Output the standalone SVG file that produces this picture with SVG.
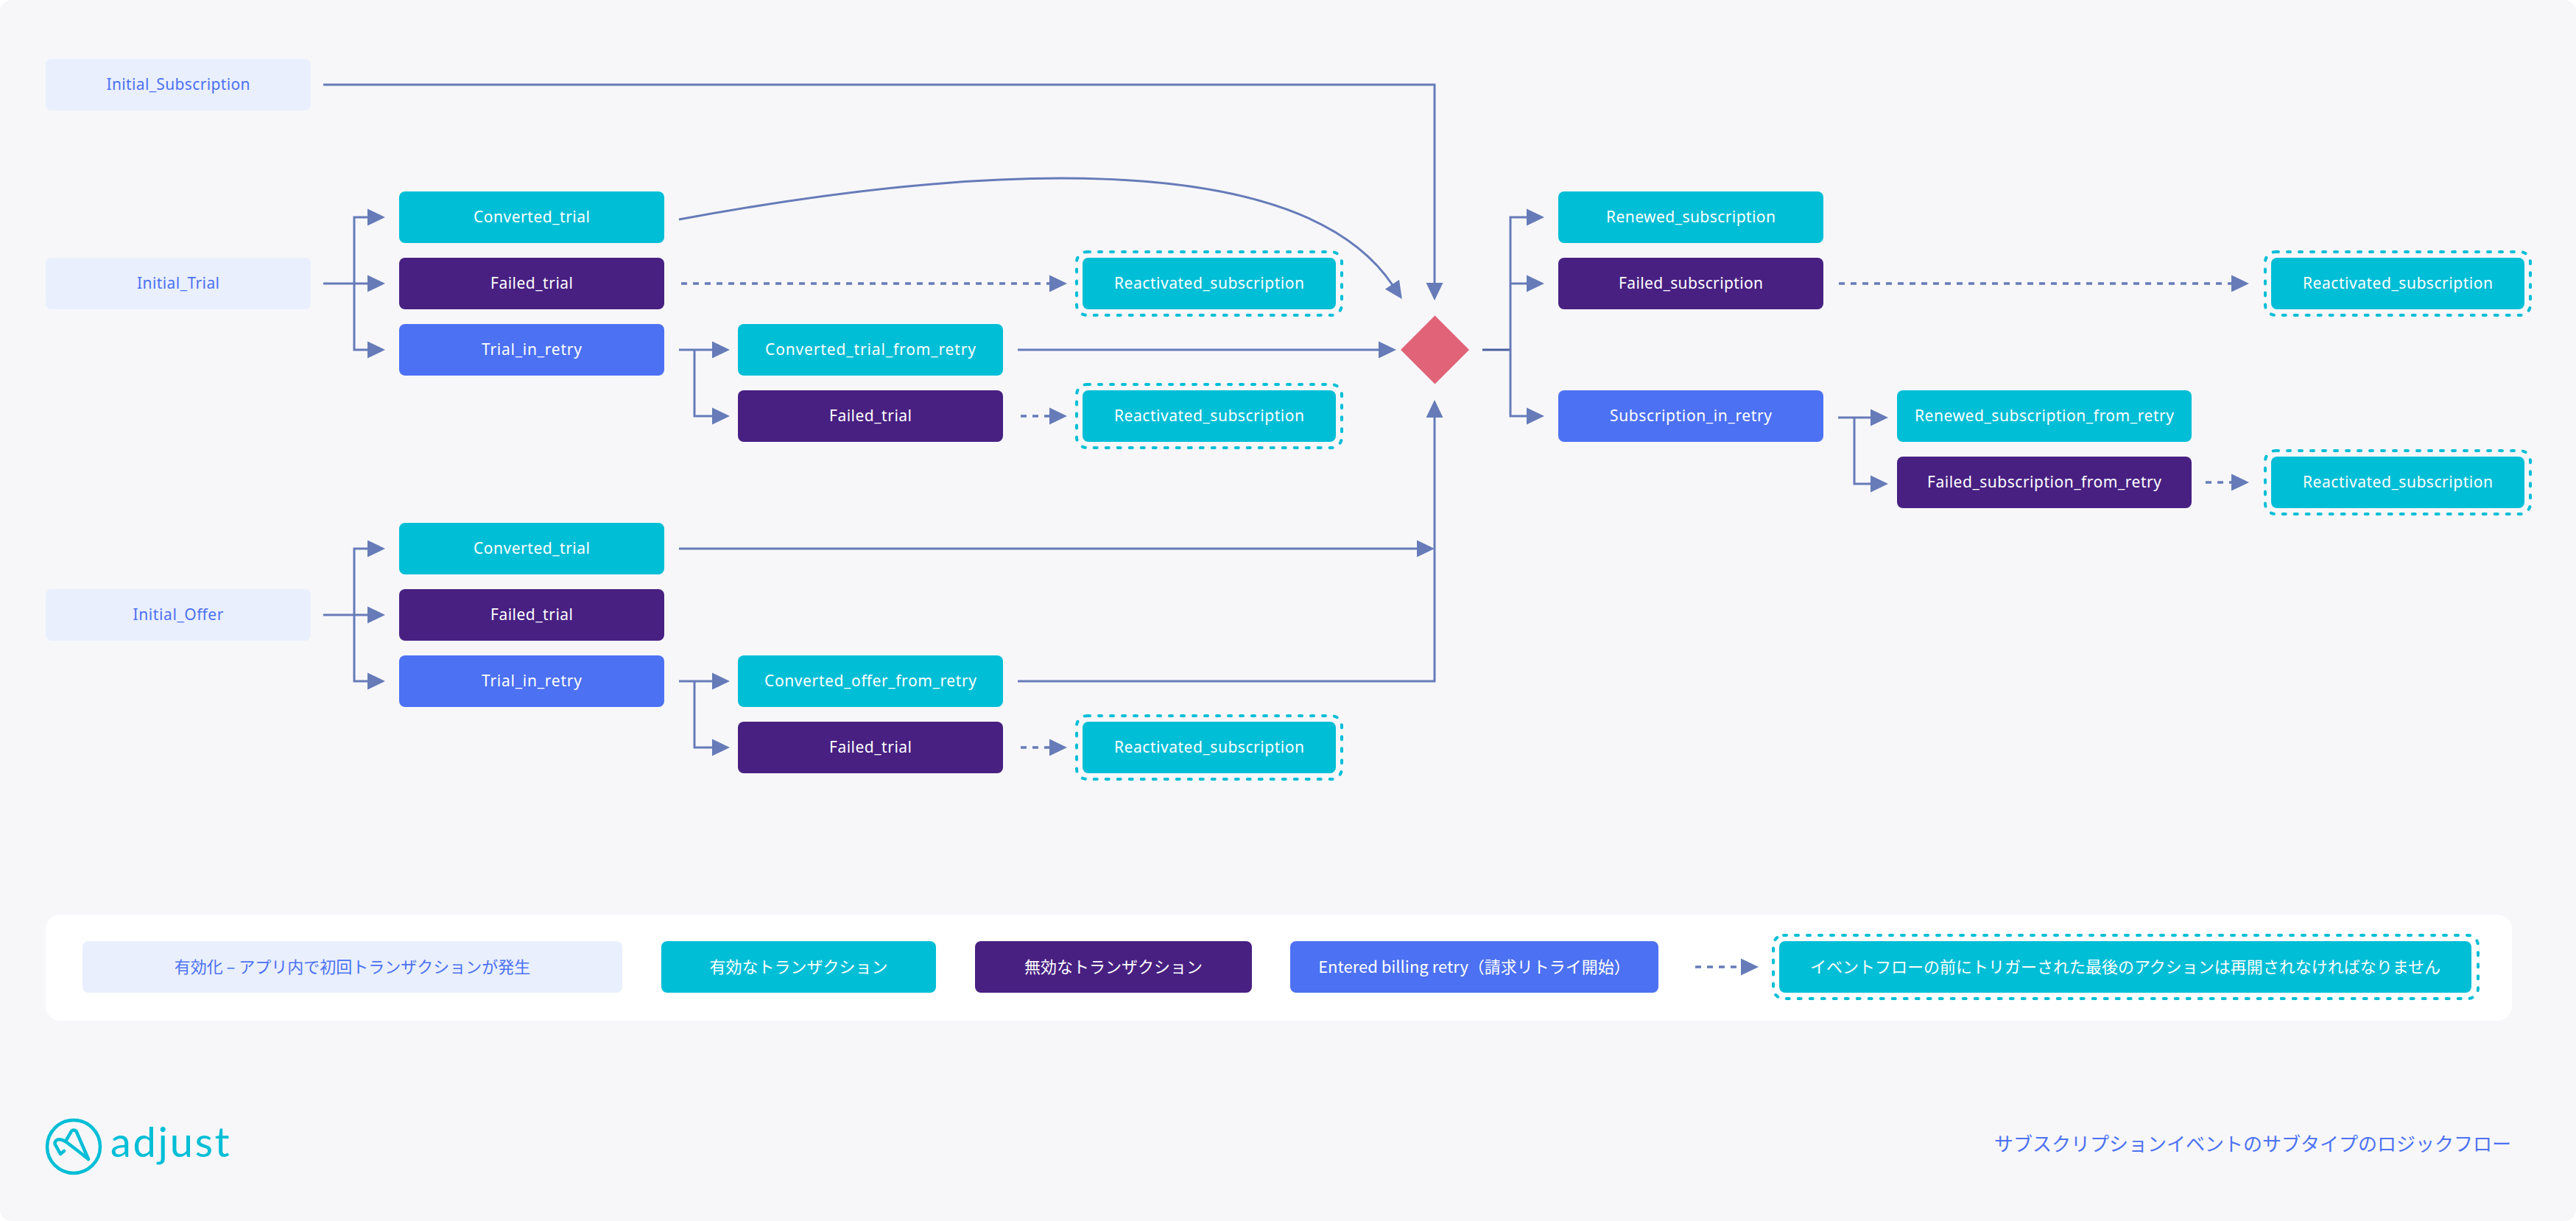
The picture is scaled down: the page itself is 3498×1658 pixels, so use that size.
<svg xmlns="http://www.w3.org/2000/svg" width="3498" height="1658" viewBox="0 0 3498 1658">
<style>
.t{font-family:"Noto Sans","Noto Sans CJK JP",sans-serif;font-size:21px;text-anchor:middle;fill:#fff}
.j{font-family:"Noto Sans CJK JP","Noto Sans",sans-serif;font-size:22px;text-anchor:middle;fill:#fff}
.b{fill:#4c71f2}
.init{fill:#e9effd}.ok{fill:#00bed6}.bad{fill:#482082}.retry{fill:#4c71f2}
.dot{fill:none;stroke:#00bed6;stroke-width:4;stroke-linecap:round;stroke-dasharray:4 12}
.c{fill:none;stroke:#667bb8;stroke-width:3;marker-end:url(#a)}
.l{fill:none;stroke:#4a5f9e;stroke-width:3}
.d{fill:none;stroke:#667bb8;stroke-width:3.500;stroke-dasharray:8 8;marker-end:url(#a)}
</style>
<defs>
<marker id="a" markerUnits="userSpaceOnUse" markerWidth="24" markerHeight="24" refX="1" refY="12" orient="auto"><path d="M0 .5L24 12L0 23.500Z" fill="#667bb8"/></marker>
</defs>
<rect width="3498" height="1658" fill="#fff"/>
<rect width="3498" height="1658" rx="16" fill="#f7f7fa"/>

<g id="legend">
<rect x="62" y="1242" width="3349" height="144" rx="20" fill="#fff"/>
</g>

<g id="connectors">
<path class="c" d="M439 115H1948V385"/>
<path class="c" d="M922 298C1300 228 1760 192 1891 387"/>
<path class="c" d="M439 385H500"/>
<path class="c" d="M481 385V295H500"/>
<path class="c" d="M481 385V475H500"/>
<path class="d" d="M925 385H1426"/>
<path class="c" d="M922 475H968"/>
<path class="c" d="M943 475V565H968"/>
<path class="c" d="M1382 475H1873"/>
<path class="d" d="M1386 565H1426"/>
<path class="c" d="M439 835H500"/>
<path class="c" d="M481 835V745H500"/>
<path class="c" d="M481 835V925H500"/>
<path class="c" d="M922 745H1925"/>
<path class="c" d="M922 925H968"/>
<path class="c" d="M943 925V1015H968"/>
<path class="c" d="M1382 925H1948V566"/>
<path class="d" d="M1386 1015H1426"/>
<path class="l" d="M2013 475H2051"/>
<path class="c" d="M2051 475V295H2074"/>
<path class="c" d="M2051 385H2074"/>
<path class="c" d="M2051 475V565H2074"/>
<path class="d" d="M2497 385H3031"/>
<path class="c" d="M2496 567H2541"/>
<path class="c" d="M2518 567V657H2541"/>
<path class="d" d="M2995 655H3031"/>
<path class="d" d="M2302 1313H2365"/>
</g>

<g id="n-initial-subscription"><rect class="init" x="62" y="80" width="360" height="70" rx="8"/><text class="t b" x="242" y="122" textLength="195">Initial_Subscription</text></g>
<g id="n-initial-trial"><rect class="init" x="62" y="350" width="360" height="70" rx="8"/><text class="t b" x="242" y="392" textLength="112">Initial_Trial</text></g>
<g id="n-initial-offer"><rect class="init" x="62" y="800" width="360" height="70" rx="8"/><text class="t b" x="242" y="842" textLength="123">Initial_Offer</text></g>

<g id="n-converted-trial-1"><rect class="ok" x="542" y="260" width="360" height="70" rx="8"/><text class="t" x="722" y="302" textLength="158">Converted_trial</text></g>
<g id="n-failed-trial-1"><rect class="bad" x="542" y="350" width="360" height="70" rx="8"/><text class="t" x="722" y="392" textLength="112">Failed_trial</text></g>
<g id="n-trial-retry-1"><rect class="retry" x="542" y="440" width="360" height="70" rx="8"/><text class="t" x="722" y="482" textLength="136">Trial_in_retry</text></g>
<g id="n-converted-trial-retry"><rect class="ok" x="1002" y="440" width="360" height="70" rx="8"/><text class="t" x="1182" y="482" textLength="286">Converted_trial_from_retry</text></g>
<g id="n-failed-trial-2"><rect class="bad" x="1002" y="530" width="360" height="70" rx="8"/><text class="t" x="1182" y="572" textLength="112">Failed_trial</text></g>

<g id="n-converted-trial-2"><rect class="ok" x="542" y="710" width="360" height="70" rx="8"/><text class="t" x="722" y="752" textLength="158">Converted_trial</text></g>
<g id="n-failed-trial-3"><rect class="bad" x="542" y="800" width="360" height="70" rx="8"/><text class="t" x="722" y="842" textLength="112">Failed_trial</text></g>
<g id="n-trial-retry-2"><rect class="retry" x="542" y="890" width="360" height="70" rx="8"/><text class="t" x="722" y="932" textLength="136">Trial_in_retry</text></g>
<g id="n-converted-offer-retry"><rect class="ok" x="1002" y="890" width="360" height="70" rx="8"/><text class="t" x="1182" y="932" textLength="288">Converted_offer_from_retry</text></g>
<g id="n-failed-trial-4"><rect class="bad" x="1002" y="980" width="360" height="70" rx="8"/><text class="t" x="1182" y="1022" textLength="112">Failed_trial</text></g>

<g id="n-react-1"><rect class="dot" x="1462" y="342" width="360" height="86" rx="14"/><rect class="ok" x="1470" y="350" width="344" height="70" rx="8"/><text class="t" x="1642" y="392" textLength="258">Reactivated_subscription</text></g>
<g id="n-react-2"><rect class="dot" x="1462" y="522" width="360" height="86" rx="14"/><rect class="ok" x="1470" y="530" width="344" height="70" rx="8"/><text class="t" x="1642" y="572" textLength="258">Reactivated_subscription</text></g>
<g id="n-react-3"><rect class="dot" x="1462" y="972" width="360" height="86" rx="14"/><rect class="ok" x="1470" y="980" width="344" height="70" rx="8"/><text class="t" x="1642" y="1022" textLength="258">Reactivated_subscription</text></g>

<g id="n-decision"><path d="M1948.500 428.500L1995 475L1948.500 521.500L1902 475Z" fill="#e06377"/></g>

<g id="n-renewed"><rect class="ok" x="2116" y="260" width="360" height="70" rx="8"/><text class="t" x="2296" y="302" textLength="230">Renewed_subscription</text></g>
<g id="n-failed-sub"><rect class="bad" x="2116" y="350" width="360" height="70" rx="8"/><text class="t" x="2296" y="392" textLength="196">Failed_subscription</text></g>
<g id="n-sub-retry"><rect class="retry" x="2116" y="530" width="360" height="70" rx="8"/><text class="t" x="2296" y="572" textLength="220">Subscription_in_retry</text></g>
<g id="n-renewed-retry"><rect class="ok" x="2576" y="530" width="400" height="70" rx="8"/><text class="t" x="2776" y="572" textLength="352">Renewed_subscription_from_retry</text></g>
<g id="n-failed-sub-retry"><rect class="bad" x="2576" y="620" width="400" height="70" rx="8"/><text class="t" x="2776" y="662" textLength="318">Failed_subscription_from_retry</text></g>
<g id="n-react-4"><rect class="dot" x="3076" y="342" width="360" height="86" rx="14"/><rect class="ok" x="3084" y="350" width="344" height="70" rx="8"/><text class="t" x="3256" y="392" textLength="258">Reactivated_subscription</text></g>
<g id="n-react-5"><rect class="dot" x="3076" y="612" width="360" height="86" rx="14"/><rect class="ok" x="3084" y="620" width="344" height="70" rx="8"/><text class="t" x="3256" y="662" textLength="258">Reactivated_subscription</text></g>

<g id="legend-initial"><rect class="init" x="112" y="1278" width="733" height="70" rx="8"/><text class="j b" x="478.500" y="1321">有効化 – アプリ内で初回トランザクションが発生</text></g>
<g id="legend-ok"><rect class="ok" x="898" y="1278" width="373" height="70" rx="8"/><text class="j" x="1084.500" y="1321">有効なトランザクション</text></g>
<g id="legend-bad"><rect class="bad" x="1324" y="1278" width="376" height="70" rx="8"/><text class="j" x="1512" y="1321">無効なトランザクション</text></g>
<g id="legend-retry"><rect class="retry" x="1752" y="1278" width="500" height="70" rx="8"/><text class="j" x="2002" y="1321">Entered billing retry（請求リトライ開始）</text></g>
<g id="legend-react"><rect class="dot" x="2408" y="1270" width="957" height="86" rx="14"/><rect class="ok" x="2416" y="1278" width="940" height="70" rx="8"/><text class="j" x="2886" y="1321">イベントフローの前にトリガーされた最後のアクションは再開されなければなりません</text></g>

<g id="logo" fill="none" stroke="#00bed6" stroke-width="4.500" stroke-linejoin="round" stroke-linecap="round">
<circle cx="100" cy="1557" r="36"/>
<path d="M120 1574L103.500 1536Q100 1533 97 1536L89 1550"/>
<path d="M120 1574Q105 1562 89 1550Q80 1545 76 1549Q73 1552 76 1556L82 1567L87 1563"/>
<text x="150" y="1571" stroke="none" fill="#00bed6" style="font-family:'Lato',sans-serif;font-size:56px;font-weight:400;letter-spacing:2.700px">adjust</text>
</g>
<text id="title" x="3410" y="1563" style="font-family:'Noto Sans CJK JP',sans-serif;font-size:26px;text-anchor:end" class="b">サブスクリプションイベントのサブタイプのロジックフロー</text>
</svg>
